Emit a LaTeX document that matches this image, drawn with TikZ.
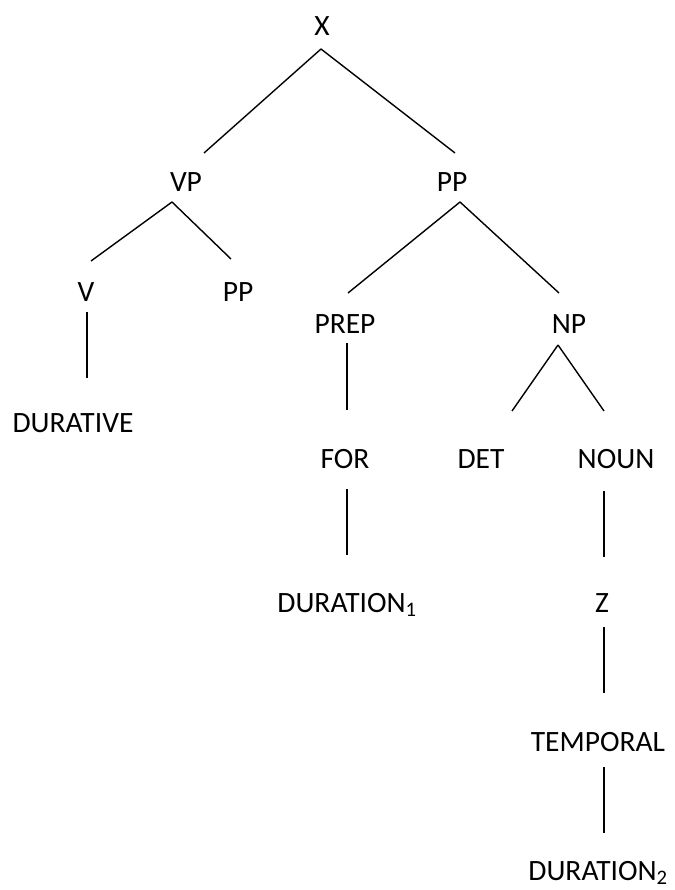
\documentclass[tikz,border=0pt]{standalone}
\usepackage{fontspec}
\setmainfont{Carlito}
\usepackage{tikz}
\usetikzlibrary{positioning}

\begin{document}
\begin{tikzpicture}[
        x=1pt, y=-1pt,
        cat/.style={inner sep=0pt, anchor=base, font=\fontsize{29.5}{35}\selectfont},
        branch/.style={draw, line width=1.4pt}
    ]
        \useasboundingbox (0,0) rectangle (674,890);
        \node [cat] (x)        at (322,36)  {X};
        \node [cat] (vp)       at (186,192) {VP};
        \node [cat] (pp)       at (452,192) {PP};
        \node [cat] (v)        at (86,301)  {V};
        \node [cat] (vpp)      at (238,301) {PP};
        \node [cat] (durative) at (73,432)  {DURATIVE};
        \node [cat] (prep)     at (345,333) {PREP};
        \node [cat] (np)       at (569,333) {NP};
        \node [cat] (for)      at (345,468) {FOR};
        \node [cat] (det)      at (481,468) {DET};
        \node [cat] (noun)     at (616,468) {NOUN};
        \node [cat] (dur1)     at (347,612) {DURATION\textsubscript{1}};
        \node [cat] (z)        at (602,612) {Z};
        \node [cat] (temporal) at (598,751) {TEMPORAL};
        \node [cat] (dur2)     at (598,880) {DURATION\textsubscript{2}};
        \coordinate (x-a)    at (321,49);
        \coordinate (vp-t)   at (204,153);
        \coordinate (pp-t)   at (455,153);
        \coordinate (vp-a)   at (172,202);
        \coordinate (v-t)    at (91,261);
        \coordinate (vpp-t)  at (231,259);
        \coordinate (v-b)    at (87,312);
        \coordinate (dv-t)   at (87,378);
        \coordinate (pp-a)   at (460,202);
        \coordinate (prep-t) at (348,293);
        \coordinate (np-t)   at (559,293);
        \coordinate (prep-b) at (347,343);
        \coordinate (for-t)  at (347,410);
        \coordinate (np-a)   at (558,345);
        \coordinate (det-t)  at (512,411);
        \coordinate (noun-t) at (604,411);
        \coordinate (for-b)  at (347,489);
        \coordinate (d1-t)   at (347,555);
        \coordinate (noun-b) at (604,491);
        \coordinate (z-t)    at (604,557);
        \coordinate (z-b)    at (604,627);
        \coordinate (tmp-t)  at (604,693);
        \coordinate (tmp-b)  at (604,767);
        \coordinate (d2-t)   at (604,833);
        \path [branch] (x-a) -- (vp-t);
        \path [branch] (x-a) -- (pp-t);
        \path [branch] (vp-a) -- (v-t);
        \path [branch] (vp-a) -- (vpp-t);
        \path [branch] (v-b) -- (dv-t);
        \path [branch] (pp-a) -- (prep-t);
        \path [branch] (pp-a) -- (np-t);
        \path [branch] (prep-b) -- (for-t);
        \path [branch] (np-a) -- (det-t);
        \path [branch] (np-a) -- (noun-t);
        \path [branch] (for-b) -- (d1-t);
        \path [branch] (noun-b) -- (z-t);
        \path [branch] (z-b) -- (tmp-t);
        \path [branch] (tmp-b) -- (d2-t);
    \end{tikzpicture}
\end{document}
